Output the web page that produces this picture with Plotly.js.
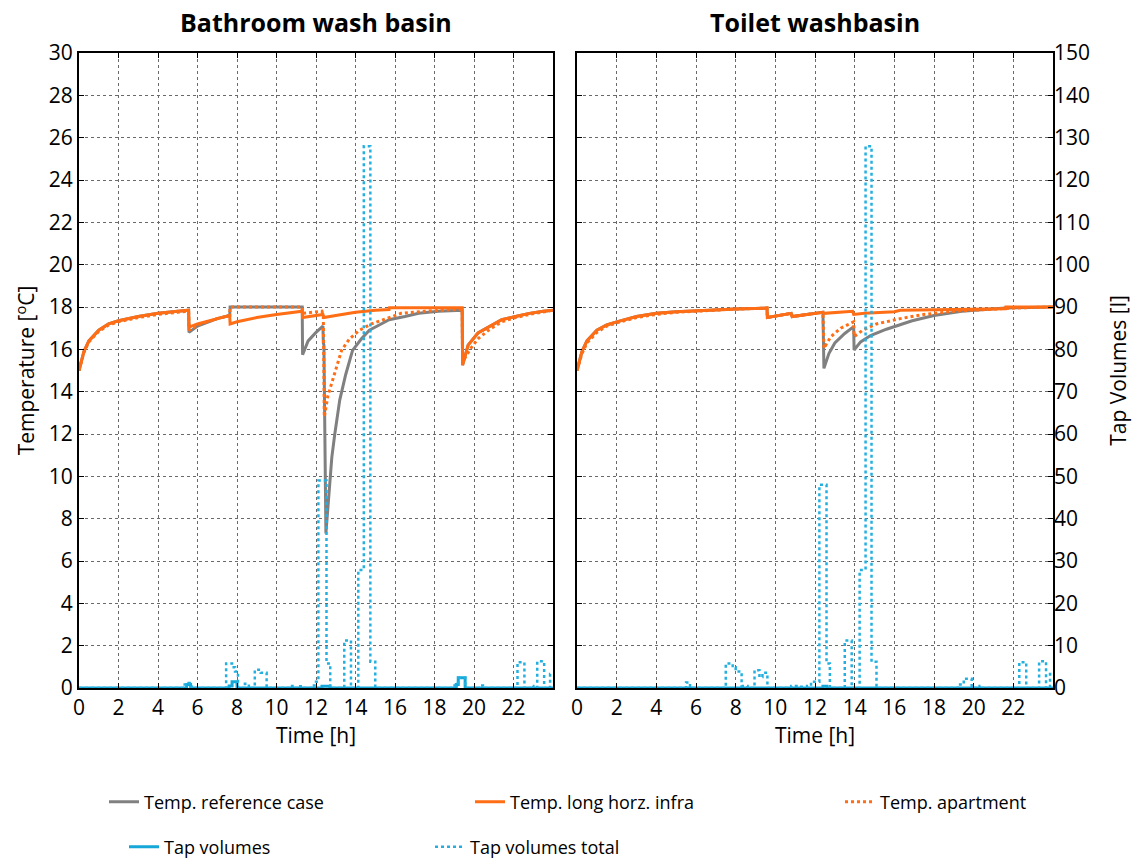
<!DOCTYPE html>
<html><head><meta charset="utf-8">
<script src="https://cdn.plot.ly/plotly-3.0.1.min.js"></script>
<style>body{margin:0;background:#fff}#chart{width:1140px;height:864px}</style>
</head><body><div id="chart"></div>
<script>
// ---------- Bathroom wash basin (left) ----------
const bathRefT = [0,0.25,0.5,1,1.5,2,3,4,5,5.55,5.57,6,7,7.63,7.65,9,11.3,11.32,11.6,12,12.35,12.37,12.4,12.5,12.6,12.7,12.8,12.95,13.2,13.5,13.85,14.3,14.7,15.2,15.7,16.5,17.2,18.2,19.4,19.42,19.7,20.2,20.8,21.4,22.1,22.8,23.5,24];
const bathRefV = [15.0,15.9,16.4,16.9,17.2,17.35,17.55,17.7,17.8,17.85,16.8,17.1,17.45,17.6,18.0,18.0,18.0,15.75,16.4,16.8,17.1,16.3,16.2,7.3,8.5,9.8,10.9,12.0,13.6,14.8,15.95,16.5,16.9,17.15,17.4,17.55,17.7,17.8,17.85,15.25,16.2,16.77,17.1,17.4,17.55,17.7,17.8,17.85];
const bathLongT = [0,0.25,0.5,1,1.5,2,3,4,5,5.55,5.57,6,7,7.63,7.65,8,9,10,11.3,11.32,12.35,12.4,13,14,15,15.7,15.72,19.4,19.42,19.7,20.2,20.8,21.4,22.1,22.8,23.5,24];
const bathLongV = [15.0,15.9,16.4,16.9,17.2,17.35,17.55,17.7,17.8,17.85,17.05,17.2,17.45,17.6,17.2,17.3,17.5,17.65,17.8,17.5,17.65,17.5,17.6,17.75,17.85,17.88,17.97,17.97,15.25,16.2,16.77,17.1,17.4,17.55,17.7,17.8,17.85];
const bathAptT = [0,0.25,0.5,1,1.5,2,3,4,5,5.55,5.57,6,7,7.63,7.65,9,11.3,11.32,12.3,12.37,12.42,12.6,12.83,13.3,13.7,14.2,14.8,15.4,16.3,17.5,19.0,19.4,19.42,19.8,20.2,20.8,21.4,22.1,22.8,23.5,24];
const bathAptV = [15.0,15.85,16.35,16.85,17.15,17.3,17.5,17.65,17.75,17.8,16.9,17.15,17.45,17.6,18.0,18.0,18.0,17.7,17.8,17.55,12.8,13.8,14.55,15.97,16.5,16.9,17.2,17.4,17.7,17.8,17.88,17.9,15.4,16.0,16.5,16.95,17.3,17.5,17.65,17.78,17.85];
const bathTapT = [0,5.45,5.65,7.6,7.75,8.0,12.3,12.7,19.1,19.2,19.55,24];
const bathTapV = [0,0.8,0,0.5,1.5,0,0.4,0,0.8,2.4,0,0];
const bathTotT = [0,5.35,5.55,5.7,7.45,7.75,7.9,8.05,8.4,8.6,8.9,9.2,9.5,10.7,10.9,11.1,11.3,11.8,12.0,12.12,12.53,12.72,13.43,13.77,14.14,14.42,14.75,15.0,18.9,19.1,19.2,19.55,20.3,20.45,22.2,22.55,22.9,23.0,23.2,23.55,23.85,24];
const bathTotV = [0,0.8,1.2,0,5.8,4.9,3.9,0,1.0,0,4.3,3.6,0,0.5,0,0.4,0,0.6,1.5,49,5.8,0,11.2,0,27.9,128,6.2,0,0.6,1.2,2.4,0,0.6,0,6.1,0,0.5,0,6.3,0,3.3,3.3];

// ---------- Toilet washbasin (right) ----------
const toilLongT = [0,0.25,0.5,1,1.5,2,3,4,5,6.4,8,9.58,9.6,10.8,10.85,12.4,12.45,13.9,13.95,14.5,16,16.3,18,21.6,21.62,24];
const toilLongV = [15.0,15.9,16.4,16.9,17.15,17.3,17.55,17.7,17.78,17.85,17.9,17.95,17.5,17.7,17.55,17.75,17.7,17.8,17.65,17.7,17.78,17.85,17.88,17.92,18.0,18.0];
const toilRefT = [0,0.25,0.5,1,1.5,2,3,4,5,6.4,8,9.58,9.6,10.8,10.85,12.4,12.45,12.7,13.0,13.5,13.95,13.97,14.3,14.8,15.6,16.9,18.0,19.4,20.5,21.6,24];
const toilRefV = [15.0,15.9,16.4,16.9,17.15,17.3,17.55,17.7,17.78,17.85,17.9,17.95,17.5,17.7,17.55,17.75,15.1,15.8,16.3,16.75,17.07,15.97,16.35,16.65,16.95,17.35,17.6,17.8,17.88,17.95,18.0];
const toilAptT = [0,0.25,0.5,1,1.5,2,3,4,5,6.4,8,9.58,9.6,10.8,10.85,12.4,12.45,12.8,13.3,13.95,13.97,14.4,15.1,16.3,17.5,19.0,20.5,22.0,24];
const toilAptV = [15.0,15.8,16.3,16.8,17.1,17.25,17.5,17.65,17.75,17.83,17.9,17.95,17.5,17.7,17.55,17.75,16.05,16.6,17.0,17.3,16.6,16.9,17.2,17.45,17.65,17.8,17.88,17.95,18.0];
const toilTapT = [0,12.4,12.6,24];
const toilTapV = [0,0.4,0,0];
const toilTotT = [0,5.5,5.7,7.5,7.85,8.0,8.3,8.6,8.95,9.2,9.35,9.6,10.8,11.2,11.6,11.8,12.22,12.58,12.75,13.5,13.85,14.25,14.55,14.85,15.1,19.2,19.5,19.9,20.3,20.45,22.3,22.65,23.3,23.65,23.85,24];
const toilTotV = [0,1.3,0,5.8,4.9,3.9,0.5,0,4.2,2.6,3.6,0,0.5,0.3,0.5,1.5,48,5.8,0,11.2,0,27.9,128,6.2,0,0.8,2.2,0,0.5,0,6.1,0,6.3,0,3.3,3.3];

const xTicks = [0,2,4,6,8,10,12,14,16,18,20,22];
const tempTicks = [0,2,4,6,8,10,12,14,16,18,20,22,24,26,28,30];
const volTicks = [0,10,20,30,40,50,60,70,80,90,100,110,120,130,140,150];

const GRAY = '#808080', ORANGE = '#ff6d15', CYAN = '#14a7d8', CYAN2 = '#23b0e0';
const FONT = 'Open Sans, Noto Sans, DejaVu Sans, sans-serif';

function tr(x, y, name, color, dash, xa, ya, show, leg, shape, w) {
  const t = {x: x, y: y, name: name, type: 'scatter', mode: 'lines', xaxis: xa, yaxis: ya,
    line: {color: color, width: w || 3, dash: dash, shape: shape || 'linear'},
    showlegend: show, hoverinfo: 'skip'};
  if (leg) t.legend = leg;
  return t;
}

const data = [
  tr(bathRefT, bathRefV, 'Temp. reference case', GRAY, 'solid', 'x', 'y', true, 'legend'),
  tr(bathLongT, bathLongV, 'Temp. long horz. infra', ORANGE, 'solid', 'x', 'y', true, 'legend3'),
  tr(bathAptT, bathAptV, 'Temp. apartment', ORANGE, 'dot', 'x', 'y', true, 'legend4'),
  tr(bathTapT, bathTapV, 'Tap volumes', CYAN, 'solid', 'x', 'y2', true, 'legend2', 'hv', 3),
  tr(bathTotT, bathTotV, 'Tap volumes total', CYAN2, 'dot', 'x', 'y2', true, 'legend5', 'hv', 2.5),
  tr(toilRefT, toilRefV, 'Temp. reference case', GRAY, 'solid', 'x2', 'y3', false),
  tr(toilLongT, toilLongV, 'Temp. long horz. infra', ORANGE, 'solid', 'x2', 'y3', false),
  tr(toilAptT, toilAptV, 'Temp. apartment', ORANGE, 'dot', 'x2', 'y3', false),
  tr(toilTapT, toilTapV, 'Tap volumes', CYAN, 'solid', 'x2', 'y4', false, undefined, 'hv', 3),
  tr(toilTotT, toilTotV, 'Tap volumes total', CYAN2, 'dot', 'x2', 'y4', false, undefined, 'hv', 2.5)
];

const GRID = '#6a6a6a';
const baseX = {range: [0, 24], tickvals: xTicks, ticks: 'inside', ticklen: 5, tickcolor: '#000',
  mirror: 'ticks', showline: true, linecolor: '#000', linewidth: 2, showgrid: true, gridcolor: GRID,
  griddash: 'dot', gridwidth: 1, zeroline: false, automargin: false, tickfont: {size: 21, color: '#000'},
  title: {text: 'Time [h]', font: {size: 21, color: '#000'}, standoff: 2}};
const baseY = {range: [0, 30], tickvals: tempTicks, ticks: 'inside', ticklen: 5, tickcolor: '#000',
  mirror: 'ticks', showline: true, linecolor: '#000', linewidth: 2, showgrid: true, gridcolor: GRID,
  griddash: 'dot', gridwidth: 1, zeroline: false, automargin: false, tickfont: {size: 21, color: '#000'}};

function leg(xpx, ypx) {
  return {orientation: 'h', xref: 'container', yref: 'container', x: xpx / 1140, xanchor: 'left',
    y: 1 - ypx / 864, yanchor: 'middle', font: {size: 18, color: '#000'}, bgcolor: 'rgba(0,0,0,0)'};
}

const layout = {
  width: 1140, height: 864, paper_bgcolor: '#fff', plot_bgcolor: '#fff',
  font: {family: FONT, color: '#000'},
  margin: {l: 79, r: 87, t: 53, b: 176},
  xaxis: Object.assign({}, baseX, {domain: [0, 0.4867], anchor: 'y'}),
  xaxis2: Object.assign({}, baseX, {domain: [0.5113, 1], anchor: 'y3'}),
  yaxis: Object.assign({}, baseY, {anchor: 'x', title: {text: 'Temperature [<sup>o</sup>C]', font: {size: 21, color: '#000'}, standoff: 8}}),
  yaxis2: {overlaying: 'y', anchor: 'x', side: 'right', range: [0, 150], showgrid: false, zeroline: false,
    showticklabels: false, ticks: '', showline: false, automargin: false},
  yaxis3: Object.assign({}, baseY, {anchor: 'x2', showticklabels: false}),
  yaxis4: {overlaying: 'y3', anchor: 'x2', side: 'right', range: [0, 150], tickvals: volTicks, showgrid: false,
    zeroline: false, ticks: '', showline: false, automargin: false, tickfont: {size: 21, color: '#000'},
    title: {text: 'Tap Volumes [l]', font: {size: 21, color: '#000'}, standoff: 22}},
  legend: leg(104, 802),
  legend3: leg(470, 802),
  legend4: leg(840, 802),
  legend2: leg(124, 847),
  legend5: leg(430, 847),
  annotations: [
    {text: '<b>Bathroom wash basin</b>', xref: 'paper', yref: 'paper', x: 0.2433, y: 1.049,
      xanchor: 'center', yanchor: 'middle', showarrow: false, font: {size: 25, color: '#000'}},
    {text: '<b>Toilet washbasin</b>', xref: 'paper', yref: 'paper', x: 0.7556, y: 1.049,
      xanchor: 'center', yanchor: 'middle', showarrow: false, font: {size: 25, color: '#000'}}
  ]
};

Plotly.newPlot('chart', data, layout, {displayModeBar: false, staticPlot: true});
</script>
</body></html>
